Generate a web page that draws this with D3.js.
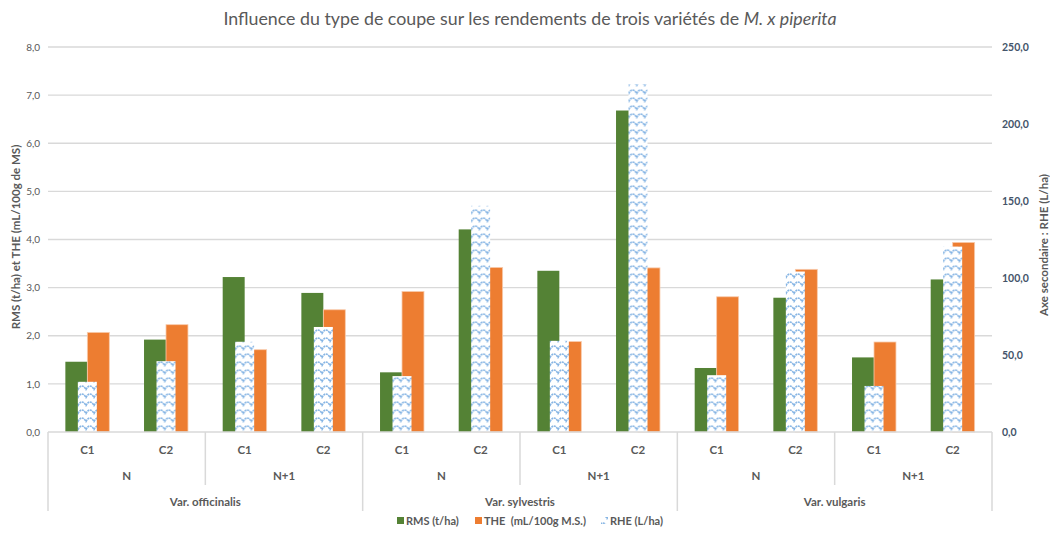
<!DOCTYPE html>
<html>
<head>
<meta charset="utf-8">
<script src="https://cdn.jsdelivr.net/npm/d3@7"></script>
<style>
  body { margin: 0; background: #fff; }
  svg { font-family: Lato, "Open Sans", sans-serif; }
</style>
</head>
<body>
<div class="chart"></div>
<script>

var varietes = ["Var. officinalis", "Var. sylvestris", "Var. vulgaris"];
var annees = ["N", "N+1"];
var coupes = ["C1", "C2"];

// RMS (t/ha), THE (mL/100g M.S.) on the left axis, RHE (L/ha) on the right one
var rms = [1.46, 1.92, 3.22, 2.89, 1.24, 4.21, 3.35, 6.68, 1.33, 2.79, 1.55, 3.17];
var the = [2.07, 2.23, 1.71, 2.54, 2.92, 3.42, 1.88, 3.41, 2.81, 3.38, 1.87, 3.94];
var rhe = [32.6, 46.0, 58.6, 68.2, 36.3, 146.9, 59.2, 225.7, 36.9, 104.2, 29.9, 120.4];

var leftTicks = [0, 1, 2, 3, 4, 5, 6, 7, 8];
var rightTicks = [0, 50, 100, 150, 200, 250];

var width = 1050, height = 533;
var plotLeft = 48, plotRight = 992, plotTop = 47, plotBottom = 432;

var green = "#548235", orange = "#ED7D31", grey = "#595959";

// one row per bar group
var cats = [];
varietes.forEach(function(v) {
  annees.forEach(function(a) {
    coupes.forEach(function(c) {
      cats.push({ variete: v, annee: a, coupe: c, key: v + "|" + a + "|" + c });
    });
  });
});
cats.forEach(function(d, i) { d.rms = rms[i]; d.the = the[i]; d.rhe = rhe[i]; });

var svg = d3.select('.chart').append('svg').attr('width', width).attr('height', height);

// wave hatch used by the RHE series
var defs = svg.append("defs");
var pat = defs.append("pattern").attr("id", "wave")
    .attr("patternUnits", "userSpaceOnUse").attr("width", 8).attr("height", 8);
pat.append("rect").attr("width", 8).attr("height", 8).attr("fill", "#fff");
pat.append("path").attr("d", "M-2,5.5 Q0,2 2,2 Q4,2 6,5.5 Q8,2 10,2")
    .attr("fill", "none").attr("stroke", "#86b5e4").attr("stroke-width", 1.6)
    .attr("stroke-dasharray", "2,0.7");

var x0 = d3.scaleBand().domain(cats.map(function(d) { return d.key; })).range([plotLeft, plotRight]);
var x1 = d3.scaleBand().domain(["rms", "the"]).range([0, x0.bandwidth()]).paddingOuter(0.79);
var x2 = d3.scaleBand().domain(["rhe"]).range([0, x0.bandwidth()]).paddingOuter(1.57);

var yL = d3.scaleLinear().domain([0, 8]).range([plotBottom, plotTop]);
var yR = d3.scaleLinear().domain([0, 250]).range([plotBottom, plotTop]);

// gridlines
svg.append("g").selectAll("line").data(leftTicks.slice(1)).enter().append("line")
    .attr("x1", plotLeft).attr("x2", plotRight)
    .attr("y1", function(d) { return yL(d); }).attr("y2", function(d) { return yL(d); })
    .attr("stroke", "#d9d9d9").attr("stroke-width", 1.3);

// left axis
var axL = svg.append("g").attr("transform", "translate(" + (plotLeft - 6) + ",0)")
    .call(d3.axisLeft(yL).tickValues(leftTicks).tickSize(0).tickPadding(2)
      .tickFormat(function(d) { return d3.format(".1f")(d).replace(".", ","); }));
axL.select(".domain").remove();
axL.selectAll("text").attr("fill", grey).attr("font-size", 10).attr("font-family", "Lato, sans-serif");

// right axis
var axR = svg.append("g").attr("transform", "translate(" + (plotRight + 8) + ",0)")
    .call(d3.axisRight(yR).tickValues(rightTicks).tickSize(0).tickPadding(2)
      .tickFormat(function(d) { return d3.format(".1f")(d).replace(".", ","); }));
axR.select(".domain").remove();
axR.selectAll("text").attr("fill", "#44546A").attr("font-size", 10.5).attr("font-weight", "bold")
    .attr("font-family", "Lato, sans-serif");

// bars
var grp = svg.append("g").selectAll("g").data(cats).enter().append("g")
    .attr("transform", function(d) { return "translate(" + x0(d.key) + ",0)"; });

grp.append("rect")
    .attr("x", x1("rms")).attr("width", x1.bandwidth())
    .attr("y", function(d) { return yL(d.rms); })
    .attr("height", function(d) { return plotBottom - yL(d.rms); })
    .attr("fill", green);

grp.append("rect")
    .attr("x", x1("the")).attr("width", x1.bandwidth())
    .attr("y", function(d) { return yL(d.the); })
    .attr("height", function(d) { return plotBottom - yL(d.the); })
    .attr("fill", orange).attr("stroke", "#f8cbad").attr("stroke-width", 0.8);

grp.append("rect")
    .attr("x", x2("rhe")).attr("width", x2.bandwidth())
    .attr("y", function(d) { return yR(d.rhe); })
    .attr("height", function(d) { return plotBottom - yR(d.rhe); })
    .attr("fill", "url(#wave)");

// category axis (three levels)
var axisCol = "#d9d9d9";
svg.append("line").attr("x1", plotLeft).attr("x2", plotRight).attr("y1", plotBottom).attr("y2", plotBottom)
    .attr("stroke", axisCol).attr("stroke-width", 1.5);

var step = x0.step();
var ax = svg.append("g");
// variety boundaries
d3.range(varietes.length + 1).forEach(function(i) {
  var xx = plotLeft + i * step * 4;
  ax.append("line").attr("x1", xx).attr("x2", xx).attr("y1", plotBottom).attr("y2", 511)
    .attr("stroke", axisCol).attr("stroke-width", 1.5);
});
// year boundaries
d3.range(varietes.length).forEach(function(i) {
  var xx = plotLeft + i * step * 4 + step * 2;
  ax.append("line").attr("x1", xx).attr("x2", xx).attr("y1", plotBottom).attr("y2", 485)
    .attr("stroke", axisCol).attr("stroke-width", 1.5);
});

ax.selectAll(".cut").data(cats).enter().append("text")
    .attr("x", function(d) { return x0(d.key) + x0.bandwidth() / 2; })
    .attr("y", 454).attr("text-anchor", "middle")
    .attr("font-size", 11.5).attr("font-weight", "bold").attr("fill", grey)
    .text(function(d) { return d.coupe; });

var yearCells = cats.filter(function(d, i) { return i % 2 === 0; });
ax.selectAll(".yr").data(yearCells).enter().append("text")
    .attr("x", function(d) { return x0(d.key) + step; })
    .attr("y", 480).attr("text-anchor", "middle")
    .attr("font-size", 11.5).attr("font-weight", "bold").attr("fill", grey)
    .text(function(d) { return d.annee; });

ax.selectAll(".var").data(varietes).enter().append("text")
    .attr("x", function(d, i) { return plotLeft + i * step * 4 + step * 2; })
    .attr("y", 506).attr("text-anchor", "middle")
    .attr("font-size", 11.5).attr("font-weight", "bold").attr("fill", grey)
    .text(function(d) { return d; });

// title
var title = svg.append("text").attr("x", (plotLeft + plotRight) / 2 + 10).attr("y", 25)
    .attr("text-anchor", "middle").attr("font-size", 17.8).attr("fill", grey);
title.append("tspan").text("Influence du type de coupe sur les rendements de trois variétés de ");
title.append("tspan").attr("font-style", "italic").text("M. x piperita");

// axis titles
svg.append("text").attr("transform", "translate(20,237) rotate(-90)")
    .attr("text-anchor", "middle").attr("font-size", 11.5).attr("font-weight", "bold").attr("fill", grey)
    .text("RMS (t/ha) et THE (mL/100g de MS)");
svg.append("text").attr("transform", "translate(1048,245) rotate(-90)")
    .attr("text-anchor", "middle").attr("font-size", 11.5).attr("font-weight", "bold").attr("fill", grey)
    .text("Axe secondaire : RHE (L/ha)");

// legend
var legend = [
  { label: "RMS (t/ha)", fill: green, x: 397 },
  { label: "THE  (mL/100g M.S.)", fill: orange, x: 475 },
  { label: "RHE (L/ha)", fill: "url(#wave)", x: 601 }
];
var lg = svg.append("g").selectAll("g").data(legend).enter().append("g")
    .attr("transform", function(d) { return "translate(" + d.x + ",521)"; });
lg.append("rect").attr("x", 0).attr("y", -4).attr("width", 7).attr("height", 7)
    .attr("fill", function(d) { return d.fill; });
lg.append("text").attr("x", 9).attr("y", 4)
    .attr("font-size", 11).attr("font-weight", "bold").attr("fill", grey)
    .style("white-space", "pre")
    .text(function(d) { return d.label; });
</script>
</body>
</html>
